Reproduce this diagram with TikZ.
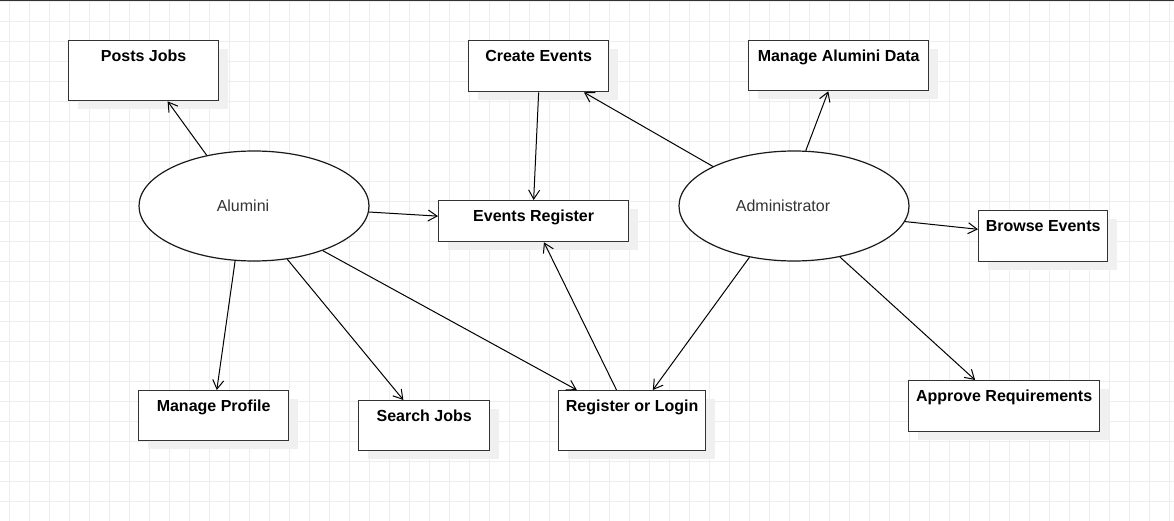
\documentclass[tikz,border=0pt]{standalone}
\usepackage{fontspec}
\setmainfont{Liberation Sans}
\usetikzlibrary{shapes.geometric}
\usetikzlibrary{arrows.meta}
\usetikzlibrary{shadows}

\begin{document}
\begin{tikzpicture}[x=1pt, y=-1pt,
    box/.style 2 args={draw=black!80, line width=1.3pt, fill=white,
        minimum width=#1, inner sep=0pt, text height=21pt, text depth=#2,
        anchor=north west, font=\fontsize{16pt}{19pt}\selectfont\bfseries,
        drop shadow={shadow xshift=9pt, shadow yshift=-8pt, opacity=1, fill=black!6}},
    actor/.style={ellipse, draw=black!90, line width=1.2pt, fill=white,
        minimum width=230pt, minimum height=110pt, inner sep=0pt,
        text=black!80, font=\fontsize{16pt}{19pt}\selectfont},
    link/.style={draw=black, line width=1pt, -{Straight Barb[length=9pt,width=11pt]}},
    gridline/.style={draw=black!7, line width=0.8pt}]
    \useasboundingbox (0,0) rectangle (1174,521);

    %%% Background grid %%%
    \foreach \gx in {9.3,29.3,...,1169.3}
        \draw[gridline] (\gx,0) -- (\gx,521);
    \foreach \gy in {1.7,21.7,...,521.7}
        \draw[gridline] (0,\gy) -- (1174,\gy);
    \draw[black!80, line width=2pt] (0,0) -- (1174,0);

    %%% Use case boxes %%%
    % Row 1
    \node[box={150pt}{39pt}] (postsjobs) at (68,40) {Posts Jobs};
    \node[box={140pt}{30pt}] (createevents) at (468,40) {Create Events};
    \node[box={180pt}{29pt}] (managedata) at (748,40) {Manage Alumini Data};
    % Row 2
    \node[box={190pt}{20pt}] (eventsreg) at (438,200) {Events Register};
    \node[box={129pt}{30pt}] (browseevents) at (978,210) {Browse Events};
    % Row 3
    \node[box={150pt}{29pt}] (manageprofile) at (138,390) {Manage Profile};
    \node[box={131pt}{29pt}] (searchjobs) at (358,400) {Search Jobs};
    \node[box={147pt}{39pt}] (reglogin) at (558,390) {Register or Login};
    \node[box={191pt}{30pt}] (approvereq) at (908,380) {Approve Requirements};

    %%% Actors %%%
    \node[actor] (alumini) at (254,206) {Alumini\hspace*{22pt}};
    \node[actor] (admin) at (794,206) {Administrator\hspace*{22pt}};

    %%% Links from Alumini %%%
    \draw[link] (alumini.133) -- (postsjobs.-52);
    \draw[link] (alumini.-3) -- (eventsreg.177);
    \draw[link] (alumini.-109) -- (manageprofile.83);
    \draw[link] (alumini.-58) -- (searchjobs.129);
    \draw[link] (alumini.-33) -- (reglogin.151);

    %%% Links from Administrator %%%
    \draw[link] (admin.154) -- (createevents.-30);
    \draw[link] (admin.78) -- (managedata.-112);
    \draw[link] (admin.-8) -- (browseevents.174);
    \draw[link] (admin.-131) -- (reglogin.56);
    \draw[link] (admin.-48) -- (approvereq.138);

    %%% Links between boxes %%%
    \draw[link] (createevents.south) -- (eventsreg.north);
    \draw[link] (reglogin.117) -- (eventsreg.-64);
\end{tikzpicture}
\end{document}
